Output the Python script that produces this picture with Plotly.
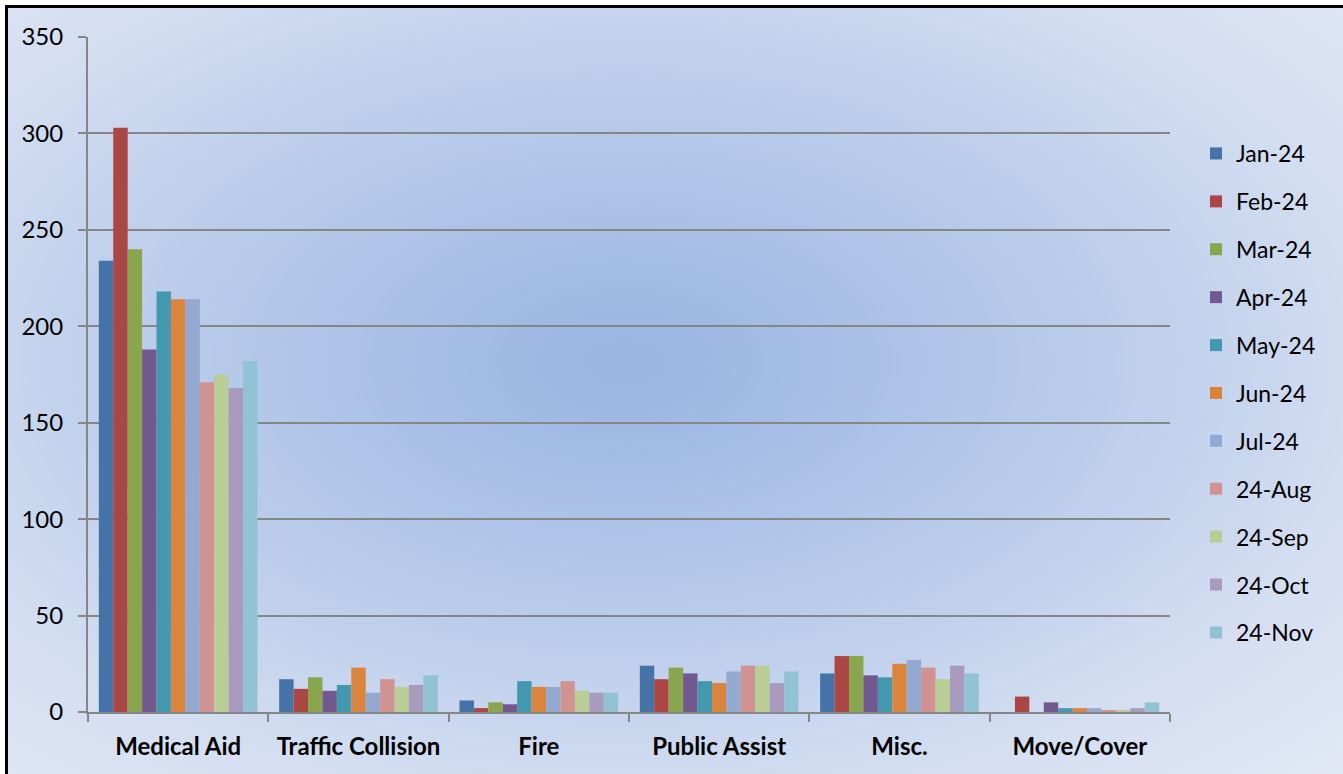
import plotly.graph_objects as go

categories = ["Medical Aid", "Traffic Collision", "Fire", "Public Assist", "Misc.", "Move/Cover"]
series_names = ["Jan-24", "Feb-24", "Mar-24", "Apr-24", "May-24", "Jun-24",
                "Jul-24", "24-Aug", "24-Sep", "24-Oct", "24-Nov"]

jan = [234, 17, 6, 24, 20, 0]
feb = [303, 12, 2, 17, 29, 8]
mar = [240, 18, 5, 23, 29, 0]
apr = [188, 11, 4, 20, 19, 5]
may = [218, 14, 16, 16, 18, 2]
jun = [214, 23, 13, 15, 25, 2]
jul = [214, 10, 13, 21, 27, 2]
aug = [171, 17, 16, 24, 23, 1]
sep = [175, 13, 11, 24, 17, 1]
oct_ = [168, 14, 10, 15, 24, 2]
nov = [182, 19, 10, 21, 20, 5]
series_values = [jan, feb, mar, apr, may, jun, jul, aug, sep, oct_, nov]

colors = ["#4572A7", "#AA4643", "#89A54E", "#71588F", "#4198AF", "#DB843D",
          "#93A9CF", "#D19392", "#B9CD96", "#A99BBD", "#92C3D5"]

y_ticks = [0, 50, 100, 150, 200, 250, 300, 350]

W, H = 1343, 774
L, R, T, B = 88, 1170, 37, 712

def px_x(p):
    return (p - L) / (R - L)

def px_y(p):
    return (B - p) / (B - T)

fig = go.Figure()
for i, (name, vals) in enumerate(zip(series_names, series_values)):
    fig.add_trace(go.Bar(
        x=categories, y=vals, name=name, legendgroup=name,
        marker=dict(color=colors[i], line=dict(width=0)),
    ))

# radial background gradient
def lerp(c1, c2, t):
    return "rgb(%d,%d,%d)" % tuple(round(a + (b - a) * t) for a, b in zip(c1, c2))

center = (152, 180, 226)
edge = (212, 222, 241)
outer = (228, 234, 246)
shapes = []
cx, cy = 625, 362
N = 100
SMAX = 1.4
for k in range(N):
    s = SMAX - SMAX * k / N
    if s > 1.0:
        col = lerp(outer, edge, (SMAX - s) / (SMAX - 1.0))
    else:
        col = lerp(edge, center, (1 - s) ** 0.9)
    rx, ry = 760 * s, 440 * s
    shapes.append(dict(type="circle", xref="paper", yref="paper", layer="below",
                       x0=px_x(cx - rx), x1=px_x(cx + rx),
                       y0=px_y(cy + ry), y1=px_y(cy - ry),
                       fillcolor=col, line=dict(width=0)))
# white margins at top/left and black frame
shapes.append(dict(type="rect", xref="paper", yref="paper", layer="below",
                   x0=px_x(-10), x1=px_x(W + 10), y0=px_y(5), y1=px_y(-10),
                   fillcolor="white", line=dict(width=0)))
shapes.append(dict(type="rect", xref="paper", yref="paper", layer="below",
                   x0=px_x(-10), x1=px_x(5), y0=px_y(H + 10), y1=px_y(-10),
                   fillcolor="white", line=dict(width=0)))
shapes.append(dict(type="line", xref="paper", yref="paper", layer="below",
                   x0=px_x(5), x1=px_x(W + 10), y0=px_y(6.5), y1=px_y(6.5),
                   line=dict(color="black", width=3)))
shapes.append(dict(type="line", xref="paper", yref="paper", layer="below",
                   x0=px_x(6.5), x1=px_x(6.5), y0=px_y(5), y1=px_y(H + 10),
                   line=dict(color="black", width=3)))

fig.update_layout(
    width=W, height=H,
    margin=dict(l=L, r=W - R, t=T, b=H - B, pad=0),
    paper_bgcolor="rgb(228,234,246)",
    plot_bgcolor="rgba(0,0,0,0)",
    barmode="group", bargap=0.12, bargroupgap=0,
    font=dict(family="Lato", color="black"),
    shapes=shapes,
    legend=dict(x=px_x(1196), xanchor="left", y=px_y(393), yanchor="middle",
                font=dict(size=23, family="Lato", color="black"),
                bgcolor="rgba(0,0,0,0)", tracegroupgap=15,
                itemwidth=30),
    showlegend=True,
)
fig.update_yaxes(range=[0, 350], tickvals=y_ticks, showgrid=True,
                 gridcolor="#868686", gridwidth=2, showline=True,
                 linecolor="#868686", linewidth=2, ticks="outside",
                 ticklen=8, tickwidth=2, tickcolor="#868686",
                 tickfont=dict(size=24, family="Lato", color="black"),
                 ticklabelstandoff=10, zeroline=False)
fig.update_xaxes(showline=True, linecolor="#868686", linewidth=2,
                 ticks="outside", tickson="boundaries", ticklen=8,
                 tickwidth=2, tickcolor="#868686",
                 tickfont=dict(size=24, family="Lato", color="black", weight="bold"),
                 ticklabelstandoff=12)

fig.write_html("out.html", config={"displayModeBar": False},
               post_script="document.body.style.margin='0';document.body.style.padding='0';")
